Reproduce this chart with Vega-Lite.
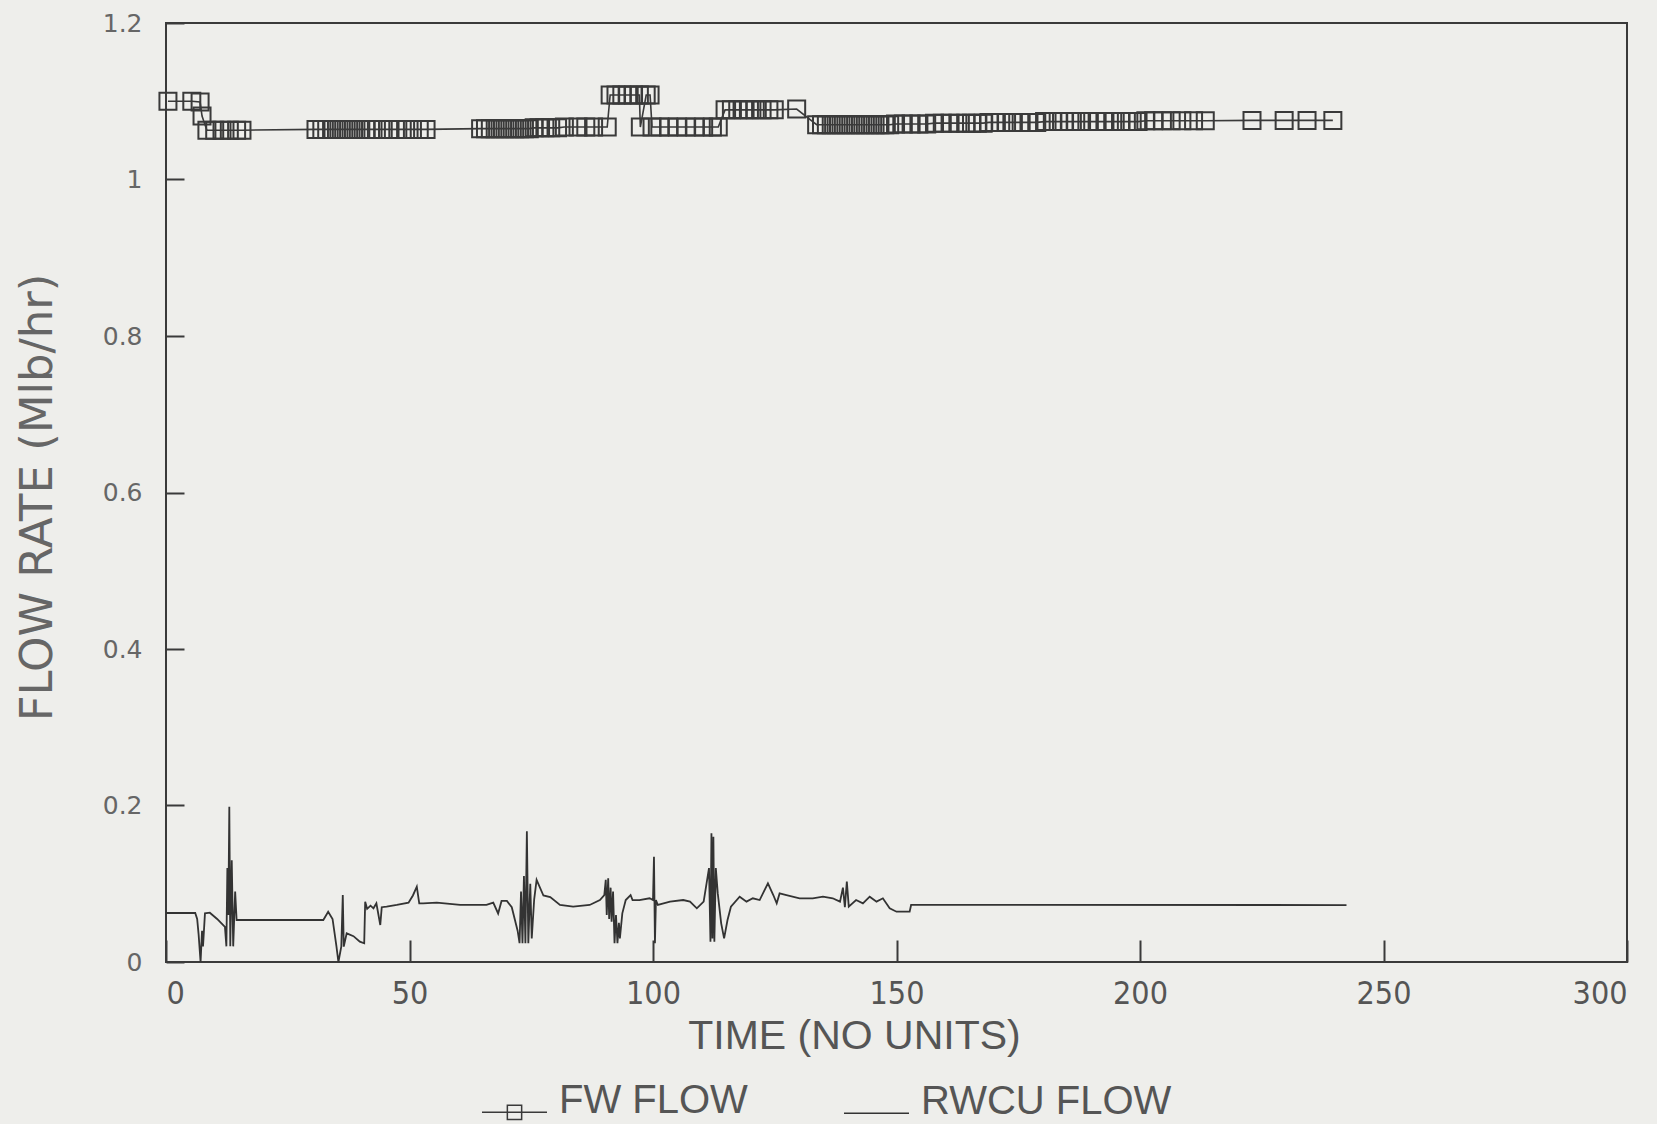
{
  "$schema": "https://vega.github.io/schema/vega-lite/v6.json",
  "width": 1461,
  "height": 939,
  "autosize": {"type": "none"},
  "padding": {"left": 166, "top": 23, "right": 30, "bottom": 162},
  "background": "#eeeeeb",
  "config": {
    "view": {"stroke": "#3a3a3a", "strokeWidth": 2},
    "axis": {"grid": false, "domain": false, "tickColor": "#3a3a3a", "tickWidth": 2}
  },
  "datasets": {
    "fw": [
      {"t":0.4,"v":1.100,"s":"FW FLOW"},{"t":5.3,"v":1.100,"s":"FW FLOW"},{"t":7.0,"v":1.099,"s":"FW FLOW"},{"t":7.4,"v":1.081,"s":"FW FLOW"},{"t":8.4,"v":1.063,"s":"FW FLOW"},
      {"t":10.0,"v":1.063,"s":"FW FLOW"},{"t":11.5,"v":1.063,"s":"FW FLOW"},{"t":13.0,"v":1.063,"s":"FW FLOW"},{"t":14.5,"v":1.063,"s":"FW FLOW"},{"t":15.6,"v":1.063,"s":"FW FLOW"},
      {"t":30.8,"v":1.064,"s":"FW FLOW"},{"t":32,"v":1.064,"s":"FW FLOW"},{"t":33,"v":1.064,"s":"FW FLOW"},{"t":34,"v":1.064,"s":"FW FLOW"},{"t":35,"v":1.064,"s":"FW FLOW"},
      {"t":36,"v":1.064,"s":"FW FLOW"},{"t":37,"v":1.064,"s":"FW FLOW"},{"t":38,"v":1.064,"s":"FW FLOW"},{"t":39,"v":1.064,"s":"FW FLOW"},{"t":40,"v":1.064,"s":"FW FLOW"},
      {"t":41,"v":1.064,"s":"FW FLOW"},{"t":42,"v":1.064,"s":"FW FLOW"},{"t":43.2,"v":1.064,"s":"FW FLOW"},{"t":44.6,"v":1.064,"s":"FW FLOW"},{"t":46,"v":1.064,"s":"FW FLOW"},
      {"t":47.6,"v":1.064,"s":"FW FLOW"},{"t":49.2,"v":1.064,"s":"FW FLOW"},{"t":50.6,"v":1.064,"s":"FW FLOW"},{"t":52,"v":1.064,"s":"FW FLOW"},{"t":53.4,"v":1.064,"s":"FW FLOW"},
      {"t":64.6,"v":1.065,"s":"FW FLOW"},{"t":65.6,"v":1.065,"s":"FW FLOW"},{"t":66.6,"v":1.065,"s":"FW FLOW"},{"t":67.6,"v":1.065,"s":"FW FLOW"},{"t":68.6,"v":1.065,"s":"FW FLOW"},
      {"t":69.6,"v":1.065,"s":"FW FLOW"},{"t":70.6,"v":1.065,"s":"FW FLOW"},{"t":71.6,"v":1.065,"s":"FW FLOW"},{"t":72.6,"v":1.065,"s":"FW FLOW"},{"t":73.6,"v":1.065,"s":"FW FLOW"},
      {"t":74.6,"v":1.065,"s":"FW FLOW"},{"t":75.6,"v":1.066,"s":"FW FLOW"},{"t":76.6,"v":1.066,"s":"FW FLOW"},{"t":77.8,"v":1.066,"s":"FW FLOW"},{"t":79.0,"v":1.066,"s":"FW FLOW"},
      {"t":80.4,"v":1.066,"s":"FW FLOW"},{"t":81.8,"v":1.067,"s":"FW FLOW"},{"t":84.6,"v":1.067,"s":"FW FLOW"},{"t":86.2,"v":1.067,"s":"FW FLOW"},{"t":87.8,"v":1.067,"s":"FW FLOW"},
      {"t":90.6,"v":1.067,"s":"FW FLOW"},{"t":91.2,"v":1.108,"s":"FW FLOW"},{"t":92.4,"v":1.108,"s":"FW FLOW"},{"t":93.6,"v":1.108,"s":"FW FLOW"},{"t":94.8,"v":1.108,"s":"FW FLOW"},
      {"t":96.0,"v":1.108,"s":"FW FLOW"},{"t":97.2,"v":1.108,"s":"FW FLOW"},{"t":97.4,"v":1.067,"s":"FW FLOW"},{"t":98.6,"v":1.108,"s":"FW FLOW"},{"t":99.4,"v":1.108,"s":"FW FLOW"},
      {"t":99.8,"v":1.067,"s":"FW FLOW"},{"t":101.4,"v":1.067,"s":"FW FLOW"},{"t":103.2,"v":1.067,"s":"FW FLOW"},{"t":105.0,"v":1.067,"s":"FW FLOW"},{"t":106.8,"v":1.067,"s":"FW FLOW"},
      {"t":108.6,"v":1.067,"s":"FW FLOW"},{"t":110.4,"v":1.067,"s":"FW FLOW"},{"t":112.2,"v":1.067,"s":"FW FLOW"},{"t":113.4,"v":1.067,"s":"FW FLOW"},
      {"t":114.8,"v":1.089,"s":"FW FLOW"},{"t":116.1,"v":1.089,"s":"FW FLOW"},{"t":117.4,"v":1.089,"s":"FW FLOW"},{"t":118.6,"v":1.089,"s":"FW FLOW"},{"t":119.8,"v":1.089,"s":"FW FLOW"},
      {"t":121.0,"v":1.089,"s":"FW FLOW"},{"t":122.4,"v":1.089,"s":"FW FLOW"},{"t":123.8,"v":1.089,"s":"FW FLOW"},{"t":124.9,"v":1.089,"s":"FW FLOW"},{"t":129.5,"v":1.09,"s":"FW FLOW"},
      {"t":133.6,"v":1.070,"s":"FW FLOW"},{"t":134.6,"v":1.070,"s":"FW FLOW"},{"t":135.6,"v":1.070,"s":"FW FLOW"},{"t":136.6,"v":1.070,"s":"FW FLOW"},{"t":137.6,"v":1.070,"s":"FW FLOW"},
      {"t":138.6,"v":1.070,"s":"FW FLOW"},{"t":139.6,"v":1.070,"s":"FW FLOW"},{"t":140.6,"v":1.070,"s":"FW FLOW"},{"t":141.6,"v":1.070,"s":"FW FLOW"},{"t":142.6,"v":1.070,"s":"FW FLOW"},
      {"t":143.6,"v":1.070,"s":"FW FLOW"},{"t":144.6,"v":1.070,"s":"FW FLOW"},{"t":145.6,"v":1.070,"s":"FW FLOW"},{"t":146.6,"v":1.070,"s":"FW FLOW"},{"t":147.6,"v":1.070,"s":"FW FLOW"},
      {"t":148.6,"v":1.070,"s":"FW FLOW"},{"t":149.8,"v":1.071,"s":"FW FLOW"},{"t":151.4,"v":1.071,"s":"FW FLOW"},{"t":153.0,"v":1.071,"s":"FW FLOW"},{"t":154.6,"v":1.071,"s":"FW FLOW"},
      {"t":156.2,"v":1.071,"s":"FW FLOW"},{"t":157.8,"v":1.072,"s":"FW FLOW"},{"t":159.4,"v":1.072,"s":"FW FLOW"},{"t":161.0,"v":1.072,"s":"FW FLOW"},{"t":162.6,"v":1.072,"s":"FW FLOW"},
      {"t":164.2,"v":1.072,"s":"FW FLOW"},{"t":165.4,"v":1.072,"s":"FW FLOW"},{"t":166.6,"v":1.072,"s":"FW FLOW"},{"t":167.8,"v":1.072,"s":"FW FLOW"},{"t":169.0,"v":1.073,"s":"FW FLOW"},
      {"t":170.2,"v":1.073,"s":"FW FLOW"},{"t":171.4,"v":1.073,"s":"FW FLOW"},{"t":172.6,"v":1.073,"s":"FW FLOW"},{"t":174.0,"v":1.073,"s":"FW FLOW"},{"t":175.6,"v":1.073,"s":"FW FLOW"},
      {"t":177.2,"v":1.073,"s":"FW FLOW"},{"t":178.8,"v":1.073,"s":"FW FLOW"},{"t":180.4,"v":1.074,"s":"FW FLOW"},{"t":182.0,"v":1.074,"s":"FW FLOW"},{"t":183.2,"v":1.074,"s":"FW FLOW"},
      {"t":184.4,"v":1.074,"s":"FW FLOW"},{"t":185.6,"v":1.074,"s":"FW FLOW"},{"t":186.8,"v":1.074,"s":"FW FLOW"},{"t":188.0,"v":1.074,"s":"FW FLOW"},{"t":189.6,"v":1.074,"s":"FW FLOW"},
      {"t":191.2,"v":1.074,"s":"FW FLOW"},{"t":192.8,"v":1.074,"s":"FW FLOW"},{"t":194.4,"v":1.074,"s":"FW FLOW"},{"t":196.0,"v":1.074,"s":"FW FLOW"},{"t":197.2,"v":1.074,"s":"FW FLOW"},
      {"t":198.4,"v":1.074,"s":"FW FLOW"},{"t":199.6,"v":1.074,"s":"FW FLOW"},{"t":201.2,"v":1.075,"s":"FW FLOW"},{"t":202.8,"v":1.075,"s":"FW FLOW"},{"t":204.6,"v":1.075,"s":"FW FLOW"},
      {"t":206.4,"v":1.075,"s":"FW FLOW"},{"t":208.6,"v":1.075,"s":"FW FLOW"},{"t":211.0,"v":1.075,"s":"FW FLOW"},{"t":213.4,"v":1.075,"s":"FW FLOW"},
      {"t":223.0,"v":1.0755,"s":"FW FLOW"},{"t":229.6,"v":1.0755,"s":"FW FLOW"},{"t":234.3,"v":1.0755,"s":"FW FLOW"},{"t":239.6,"v":1.0755,"s":"FW FLOW"}
    ],
    "rwcu": [
      {"t":0,"v":0.0626,"s":"RWCU FLOW"},{"t":6.0,"v":0.0626,"s":"RWCU FLOW"},{"t":6.4,"v":0.055,"s":"RWCU FLOW"},{"t":6.7,"v":0.035,"s":"RWCU FLOW"},{"t":7.1,"v":0.0,"s":"RWCU FLOW"},
      {"t":7.4,"v":0.04,"s":"RWCU FLOW"},{"t":7.6,"v":0.02,"s":"RWCU FLOW"},{"t":8.0,"v":0.0622,"s":"RWCU FLOW"},{"t":9.0,"v":0.063,"s":"RWCU FLOW"},{"t":10.5,"v":0.055,"s":"RWCU FLOW"},
      {"t":12.1,"v":0.045,"s":"RWCU FLOW"},{"t":12.4,"v":0.02,"s":"RWCU FLOW"},{"t":12.6,"v":0.12,"s":"RWCU FLOW"},{"t":12.8,"v":0.06,"s":"RWCU FLOW"},{"t":13.0,"v":0.1985,"s":"RWCU FLOW"},
      {"t":13.2,"v":0.02,"s":"RWCU FLOW"},{"t":13.5,"v":0.13,"s":"RWCU FLOW"},{"t":13.8,"v":0.02,"s":"RWCU FLOW"},{"t":14.2,"v":0.09,"s":"RWCU FLOW"},{"t":14.5,"v":0.0537,"s":"RWCU FLOW"},
      {"t":32.3,"v":0.0537,"s":"RWCU FLOW"},{"t":33.3,"v":0.0643,"s":"RWCU FLOW"},{"t":34.2,"v":0.055,"s":"RWCU FLOW"},{"t":35.0,"v":0.02,"s":"RWCU FLOW"},{"t":35.4,"v":0.0,"s":"RWCU FLOW"},
      {"t":36.0,"v":0.02,"s":"RWCU FLOW"},{"t":36.3,"v":0.0856,"s":"RWCU FLOW"},{"t":36.5,"v":0.0196,"s":"RWCU FLOW"},{"t":37.1,"v":0.0366,"s":"RWCU FLOW"},{"t":38.5,"v":0.033,"s":"RWCU FLOW"},
      {"t":39.8,"v":0.026,"s":"RWCU FLOW"},{"t":40.7,"v":0.0239,"s":"RWCU FLOW"},{"t":40.9,"v":0.0771,"s":"RWCU FLOW"},{"t":41.3,"v":0.068,"s":"RWCU FLOW"},{"t":42.0,"v":0.072,"s":"RWCU FLOW"},
      {"t":42.6,"v":0.0686,"s":"RWCU FLOW"},{"t":43.2,"v":0.075,"s":"RWCU FLOW"},{"t":44.0,"v":0.0473,"s":"RWCU FLOW"},{"t":44.3,"v":0.07,"s":"RWCU FLOW"},{"t":45.3,"v":0.0707,"s":"RWCU FLOW"},
      {"t":47.4,"v":0.0729,"s":"RWCU FLOW"},{"t":49.8,"v":0.0758,"s":"RWCU FLOW"},{"t":50.7,"v":0.085,"s":"RWCU FLOW"},{"t":51.5,"v":0.0962,"s":"RWCU FLOW"},{"t":52.0,"v":0.075,"s":"RWCU FLOW"},
      {"t":52.8,"v":0.075,"s":"RWCU FLOW"},{"t":55.6,"v":0.0758,"s":"RWCU FLOW"},{"t":60.4,"v":0.0729,"s":"RWCU FLOW"},{"t":65.8,"v":0.0729,"s":"RWCU FLOW"},{"t":67.2,"v":0.076,"s":"RWCU FLOW"},
      {"t":68.2,"v":0.062,"s":"RWCU FLOW"},{"t":68.9,"v":0.078,"s":"RWCU FLOW"},{"t":70.0,"v":0.078,"s":"RWCU FLOW"},{"t":71.0,"v":0.07,"s":"RWCU FLOW"},{"t":72.2,"v":0.04,"s":"RWCU FLOW"},
      {"t":72.6,"v":0.024,"s":"RWCU FLOW"},{"t":72.9,"v":0.09,"s":"RWCU FLOW"},{"t":73.2,"v":0.024,"s":"RWCU FLOW"},{"t":73.5,"v":0.11,"s":"RWCU FLOW"},{"t":73.8,"v":0.024,"s":"RWCU FLOW"},
      {"t":74.1,"v":0.167,"s":"RWCU FLOW"},{"t":74.4,"v":0.024,"s":"RWCU FLOW"},{"t":74.8,"v":0.1,"s":"RWCU FLOW"},{"t":75.1,"v":0.03,"s":"RWCU FLOW"},{"t":75.6,"v":0.08,"s":"RWCU FLOW"},
      {"t":76.1,"v":0.105,"s":"RWCU FLOW"},{"t":77.5,"v":0.085,"s":"RWCU FLOW"},{"t":78.9,"v":0.083,"s":"RWCU FLOW"},{"t":80.9,"v":0.0729,"s":"RWCU FLOW"},{"t":83.6,"v":0.0707,"s":"RWCU FLOW"},
      {"t":87.0,"v":0.0729,"s":"RWCU FLOW"},{"t":89.1,"v":0.0792,"s":"RWCU FLOW"},{"t":90.0,"v":0.0856,"s":"RWCU FLOW"},{"t":90.3,"v":0.105,"s":"RWCU FLOW"},{"t":90.5,"v":0.06,"s":"RWCU FLOW"},
      {"t":90.8,"v":0.1069,"s":"RWCU FLOW"},{"t":91.0,"v":0.055,"s":"RWCU FLOW"},{"t":91.3,"v":0.095,"s":"RWCU FLOW"},{"t":91.5,"v":0.0515,"s":"RWCU FLOW"},{"t":91.8,"v":0.09,"s":"RWCU FLOW"},
      {"t":92.1,"v":0.024,"s":"RWCU FLOW"},{"t":92.4,"v":0.06,"s":"RWCU FLOW"},{"t":92.7,"v":0.024,"s":"RWCU FLOW"},{"t":93.0,"v":0.05,"s":"RWCU FLOW"},{"t":93.2,"v":0.03,"s":"RWCU FLOW"},
      {"t":93.7,"v":0.0622,"s":"RWCU FLOW"},{"t":94.4,"v":0.0792,"s":"RWCU FLOW"},{"t":95.4,"v":0.0856,"s":"RWCU FLOW"},{"t":95.8,"v":0.0792,"s":"RWCU FLOW"},{"t":97.2,"v":0.0792,"s":"RWCU FLOW"},
      {"t":99.3,"v":0.0814,"s":"RWCU FLOW"},{"t":100.0,"v":0.0792,"s":"RWCU FLOW"},{"t":100.2,"v":0.1346,"s":"RWCU FLOW"},{"t":100.4,"v":0.0239,"s":"RWCU FLOW"},{"t":100.6,"v":0.0792,"s":"RWCU FLOW"},
      {"t":101.0,"v":0.0729,"s":"RWCU FLOW"},{"t":103.5,"v":0.0771,"s":"RWCU FLOW"},{"t":106.2,"v":0.0792,"s":"RWCU FLOW"},{"t":107.6,"v":0.0771,"s":"RWCU FLOW"},{"t":109.0,"v":0.0686,"s":"RWCU FLOW"},
      {"t":110.4,"v":0.0771,"s":"RWCU FLOW"},{"t":111.0,"v":0.1005,"s":"RWCU FLOW"},{"t":111.5,"v":0.12,"s":"RWCU FLOW"},{"t":111.8,"v":0.026,"s":"RWCU FLOW"},{"t":112.0,"v":0.1644,"s":"RWCU FLOW"},
      {"t":112.2,"v":0.03,"s":"RWCU FLOW"},{"t":112.4,"v":0.16,"s":"RWCU FLOW"},{"t":112.6,"v":0.026,"s":"RWCU FLOW"},{"t":112.9,"v":0.12,"s":"RWCU FLOW"},{"t":113.3,"v":0.0877,"s":"RWCU FLOW"},
      {"t":114.0,"v":0.0494,"s":"RWCU FLOW"},{"t":114.6,"v":0.0302,"s":"RWCU FLOW"},{"t":115.3,"v":0.0537,"s":"RWCU FLOW"},{"t":116.0,"v":0.0707,"s":"RWCU FLOW"},{"t":117.8,"v":0.0835,"s":"RWCU FLOW"},
      {"t":119.2,"v":0.0771,"s":"RWCU FLOW"},{"t":120.5,"v":0.0814,"s":"RWCU FLOW"},{"t":121.9,"v":0.0792,"s":"RWCU FLOW"},{"t":123.6,"v":0.1005,"s":"RWCU FLOW"},{"t":124.7,"v":0.0856,"s":"RWCU FLOW"},
      {"t":125.4,"v":0.075,"s":"RWCU FLOW"},{"t":126.0,"v":0.0877,"s":"RWCU FLOW"},{"t":127.4,"v":0.0856,"s":"RWCU FLOW"},{"t":130.1,"v":0.0814,"s":"RWCU FLOW"},{"t":132.8,"v":0.0814,"s":"RWCU FLOW"},
      {"t":134.9,"v":0.0835,"s":"RWCU FLOW"},{"t":136.9,"v":0.0814,"s":"RWCU FLOW"},{"t":138.4,"v":0.0771,"s":"RWCU FLOW"},{"t":139.0,"v":0.095,"s":"RWCU FLOW"},{"t":139.4,"v":0.07,"s":"RWCU FLOW"},
      {"t":139.8,"v":0.1027,"s":"RWCU FLOW"},{"t":140.2,"v":0.0707,"s":"RWCU FLOW"},{"t":141.7,"v":0.0792,"s":"RWCU FLOW"},{"t":143.1,"v":0.075,"s":"RWCU FLOW"},{"t":144.5,"v":0.0835,"s":"RWCU FLOW"},
      {"t":145.9,"v":0.0771,"s":"RWCU FLOW"},{"t":147.2,"v":0.0814,"s":"RWCU FLOW"},{"t":148.6,"v":0.0686,"s":"RWCU FLOW"},{"t":150.0,"v":0.0643,"s":"RWCU FLOW"},{"t":152.7,"v":0.0643,"s":"RWCU FLOW"},
      {"t":153.0,"v":0.0729,"s":"RWCU FLOW"},{"t":158.9,"v":0.0729,"s":"RWCU FLOW"},{"t":242.4,"v":0.0728,"s":"RWCU FLOW"}
    ]
  },
  "layer": [
    {
      "data": {"name": "rwcu"},
      "mark": {"type": "line", "strokeWidth": 1.8},
      "encoding": {
        "x": {"field": "t", "type": "quantitative"},
        "y": {"field": "v", "type": "quantitative"},
        "color": {"field": "s", "type": "nominal"}
      }
    },
    {
      "data": {"name": "fw"},
      "mark": {"type": "line", "strokeWidth": 1.6},
      "encoding": {
        "x": {"field": "t", "type": "quantitative"},
        "y": {"field": "v", "type": "quantitative"},
        "color": {"field": "s", "type": "nominal"}
      }
    },
    {
      "data": {"name": "fw"},
      "mark": {"type": "point", "shape": "square", "filled": false, "size": 289, "strokeWidth": 2, "color": "#3a3a3a", "opacity": 1},
      "encoding": {
        "x": {"field": "t", "type": "quantitative"},
        "y": {"field": "v", "type": "quantitative"}
      }
    }
  ],
  "encoding": {
    "x": {
      "field": "t", "type": "quantitative",
      "scale": {"domain": [0, 300], "nice": false, "zero": false},
      "axis": {
        "values": [0, 50, 100, 150, 200, 250, 300],
        "tickSize": -22,
        "labelPadding": 38,
        "labelFont": "Liberation Sans Narrow, DejaVu Sans Condensed, sans-serif",
        "labelFontSize": 32,
        "labelColor": "#555555",
        "title": "TIME (NO UNITS)",
        "titleFont": "Liberation Sans, Arial, sans-serif",
        "titleFontSize": 41,
        "titleFontWeight": "normal",
        "titleColor": "#555555",
        "titleX": 688,
        "titleY": 74,
        "titleBaseline": "middle",
        "titleAlign": "center"
      }
    },
    "y": {
      "field": "v", "type": "quantitative",
      "scale": {"domain": [0, 1.2], "nice": false, "zero": false},
      "axis": {
        "values": [0, 0.2, 0.4, 0.6, 0.8, 1, 1.2],
        "format": "~g",
        "tickSize": -18,
        "labelPadding": 42,
        "labelFont": "DejaVu Sans",
        "labelFontSize": 25,
        "labelColor": "#666666",
        "title": "FLOW RATE (Mlb/hr)",
        "titleFont": "DejaVu Sans",
        "titleFontSize": 45,
        "titleFontWeight": "normal",
        "titleColor": "#666666",
        "titleAngle": -90,
        "titleX": -129,
        "titleY": 474,
        "titleBaseline": "middle",
        "titleAlign": "center"
      }
    },
    "color": {
      "field": "s", "type": "nominal",
      "scale": {"domain": ["FW FLOW", "RWCU FLOW"], "range": ["#3a3a3a", "#333333"]},
      "legend": {
        "title": null,
        "orient": "none",
        "legendX": 315,
        "legendY": 1044,
        "direction": "horizontal",
        "padding": 0,
        "symbolSize": 4225,
        "symbolStrokeWidth": 1.5,
        "labelFont": "Liberation Sans, Arial, sans-serif",
        "labelFontSize": 40,
        "labelLimit": 500,
        "labelColor": "#555555",
        "labelOffset": 11,
        "columnPadding": 93,
        "encode": {
          "symbols": {
            "update": {
              "shape": {"signal": "datum.value === 'FW FLOW' ? 'M-1,0.35H1M-0.22,0.13H0.22V0.57H-0.22Z' : 'M-1,0.35H1'"},
              "fill": {"value": "transparent"},
              "stroke": {"value": "#3a3a3a"},
              "strokeWidth": {"value": 1.5}
            }
          }
        }
      }
    }
  }
}
